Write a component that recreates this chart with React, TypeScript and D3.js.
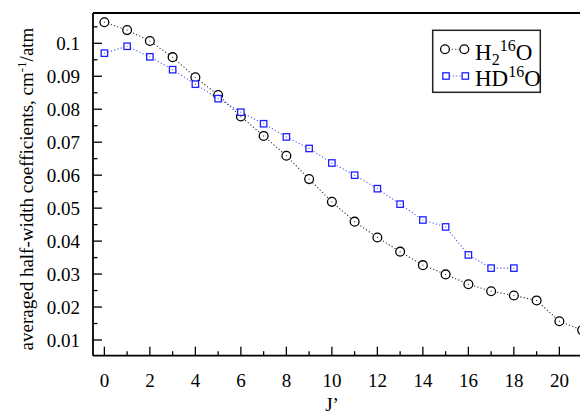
import React from "react";
import * as d3 from "d3";

const J_H2O = [0,1,2,3,4,5,6,7,8,9,10,11,12,13,14,15,16,17,18,19,20,21];
const V_H2O = [0.1064,0.1040,0.1007,0.0958,0.0897,0.0843,0.0778,0.0719,0.0659,0.0588,0.0519,0.0459,0.0411,0.0368,0.0327,0.0299,0.0269,0.0248,0.0235,0.0220,0.0157,0.0130];
const J_HDO = [0,1,2,3,4,5,6,7,8,9,10,11,12,13,14,15,16,17,18];
const V_HDO = [0.0970,0.0991,0.0959,0.0920,0.0876,0.0832,0.0791,0.0756,0.0716,0.0681,0.0637,0.0600,0.0559,0.0512,0.0464,0.0443,0.0358,0.0318,0.0318];
const X_TICKS = [0,2,4,6,8,10,12,14,16,18,20];
const X_MINOR = [1,3,5,7,9,11,13,15,17,19,21];
const Y_TICKS = [0.01,0.02,0.03,0.04,0.05,0.06,0.07,0.08,0.09,0.1];
const Y_MINOR = [0.015,0.025,0.035,0.045,0.055,0.065,0.075,0.085,0.095,0.105];

const W = 580, H = 418;
const FONT = "'Liberation Serif', 'DejaVu Serif', serif";

export default function App() {
  const x = d3.scaleLinear().domain([-0.5, 21.5]).range([93, 593.5]);
  const y = d3.scaleLinear().domain([0.01, 0.1]).range([340, 43.3]);
  const top = 13, bottom = 355.7, left = 93;
  const h2o = J_H2O.map((j, i) => [j, V_H2O[i]] as [number, number]);
  const hdo = J_HDO.map((j, i) => [j, V_HDO[i]] as [number, number]);
  const line = d3.line<[number, number]>().x(d => x(d[0])).y(d => y(d[1]));
  const blue = "#1f1fff";
  const fmt = (v: number) => String(+v.toFixed(3));
  return (
    <svg width={W} height={H} style={{ position: "absolute", left: 0, top: 0, background: "#fff" }} fontFamily={FONT}>
      <defs>
        <clipPath id="plot"><rect x={left} y={top} width={W - left} height={bottom - top} /></clipPath>
      </defs>
      <g clipPath="url(#plot)">
        <path d={line(h2o) || ""} fill="none" stroke="#333" strokeWidth={1.1} strokeDasharray="1.2 2.2" />
        <path d={line(hdo) || ""} fill="none" stroke="#5555ff" strokeWidth={1.1} strokeDasharray="1.2 2.2" />
        {h2o.map((d, i) => (
          <g key={"c" + i}>
            <circle cx={x(d[0])} cy={y(d[1])} r={4.4} fill="#fff" stroke="#000" strokeWidth={1.3} />
            <circle cx={x(d[0])} cy={y(d[1])} r={0.6} fill="#333" />
          </g>
        ))}
        {hdo.map((d, i) => (
          <g key={"s" + i}>
            <rect x={x(d[0]) - 3.2} y={y(d[1]) - 3.2} width={6.4} height={6.4} fill="#fff" stroke={blue} strokeWidth={1.3} />
            <circle cx={x(d[0])} cy={y(d[1])} r={0.6} fill="#55f" />
          </g>
        ))}
      </g>
      {/* frame */}
      <line x1={left} x2={W} y1={top} y2={top} stroke="#000" strokeWidth={1.8} />
      <line x1={left} x2={W} y1={bottom} y2={bottom} stroke="#000" strokeWidth={1.8} />
      <line x1={left} x2={left} y1={top} y2={bottom} stroke="#000" strokeWidth={1.8} />
      {/* x ticks */}
      {X_TICKS.map(t => (
        <g key={"xt" + t}>
          <line x1={x(t)} x2={x(t)} y1={bottom} y2={bottom - 9} stroke="#000" strokeWidth={1.3} />
          <text x={x(t)} y={387} fontSize={19} textAnchor="middle">{t}</text>
        </g>
      ))}
      {X_MINOR.map(t => (
        <line key={"xm" + t} x1={x(t)} x2={x(t)} y1={bottom} y2={bottom - 4.5} stroke="#000" strokeWidth={1.3} />
      ))}
      {/* y ticks */}
      {Y_TICKS.map(t => (
        <g key={"yt" + t}>
          <line x1={left} x2={left + 9} y1={y(t)} y2={y(t)} stroke="#000" strokeWidth={1.3} />
          <text x={80} y={y(t)} dy="0.35em" fontSize={19} textAnchor="end">{fmt(t)}</text>
        </g>
      ))}
      {Y_MINOR.map(t => (
        <line key={"ym" + t} x1={left} x2={left + 4.5} y1={y(t)} y2={y(t)} stroke="#000" strokeWidth={1.3} />
      ))}
      {/* axis labels */}
      <text x={332} y={411} fontSize={19} textAnchor="middle">J’</text>
      <text transform="translate(33,189) rotate(-90)" fontSize={19} textAnchor="middle">
        averaged half-width coefficients, cm<tspan dy={-7} fontSize={13}>-1</tspan><tspan dy={7}>/atm</tspan>
      </text>
      {/* legend */}
      <rect x={432.7} y={30.3} width={107.6} height={62} fill="#fff" stroke="#222" strokeWidth={1.5} />
      <line x1={445} x2={464.3} y1={49.3} y2={49.3} stroke="#333" strokeWidth={1.1} strokeDasharray="1.2 2.2" />
      <circle cx={445} cy={49.3} r={4.4} fill="#fff" stroke="#000" strokeWidth={1.3} />
      <circle cx={464.3} cy={49.3} r={4.4} fill="#fff" stroke="#000" strokeWidth={1.3} />
      <text x={475} y={60} fontSize={23}>H<tspan dy={5} fontSize={16}>2</tspan><tspan dy={-14} fontSize={16}>16</tspan><tspan dy={9}>O</tspan></text>
      <line x1={446} x2={465.3} y1={76} y2={76} stroke="#5555ff" strokeWidth={1.1} strokeDasharray="1.2 2.2" />
      <rect x={446 - 3.2} y={76 - 3.2} width={6.4} height={6.4} fill="#fff" stroke={blue} strokeWidth={1.3} />
      <rect x={465.3 - 3.2} y={76 - 3.2} width={6.4} height={6.4} fill="#fff" stroke={blue} strokeWidth={1.3} />
      <text x={475} y={86} fontSize={23}>HD<tspan dy={-9} fontSize={16}>16</tspan><tspan dy={9}>O</tspan></text>
    </svg>
  );
}
